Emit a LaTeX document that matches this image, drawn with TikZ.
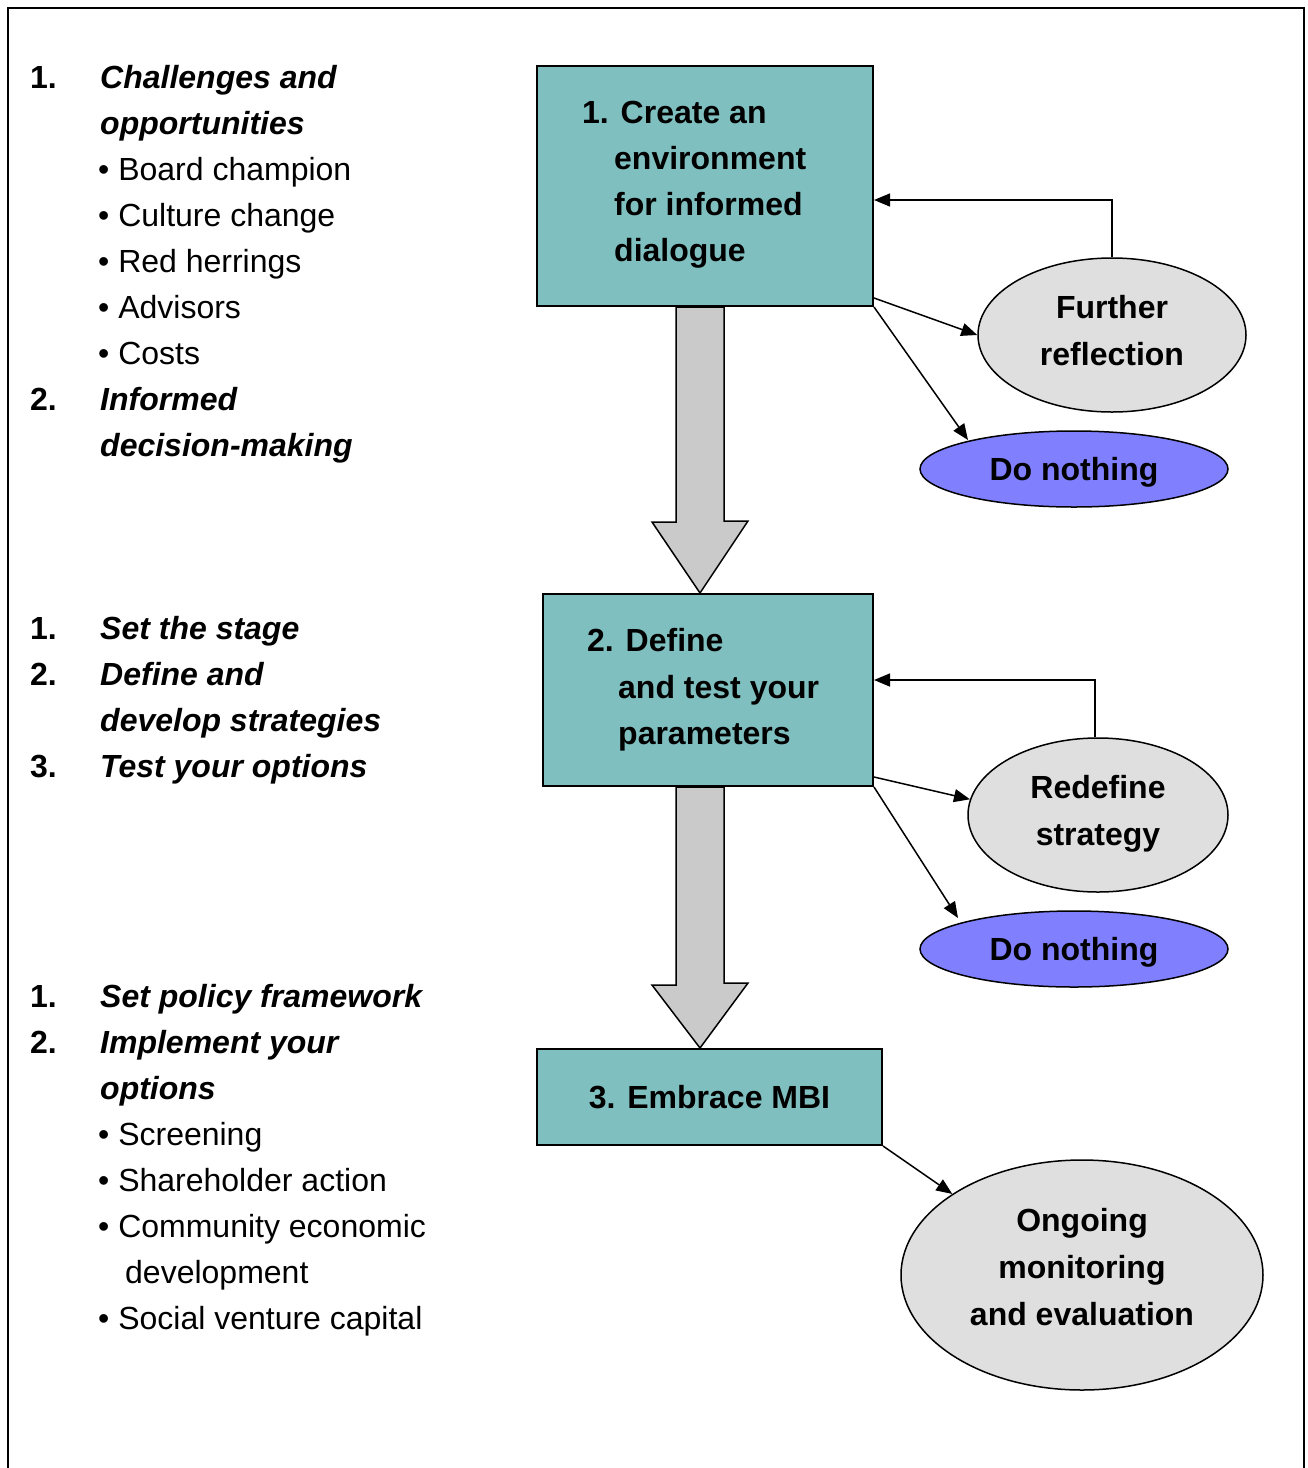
\documentclass[tikz,border=0pt]{standalone}
\usepackage{fontspec}
\setmainfont{Liberation Sans}
\usetikzlibrary{arrows.meta,calc,shapes.geometric}
\definecolor{tealbox}{HTML}{80BFBF}
\definecolor{ovalgray}{HTML}{DFDFDF}
\definecolor{ovalblue}{HTML}{8080FF}
\definecolor{blkgray}{HTML}{CACACA}
\begin{document}
\begin{tikzpicture}[x=1pt,y=-1pt,
  lt/.style={anchor=base west, inner sep=0pt, font=\fontsize{32}{38}\selectfont},
  lb/.style={lt, font=\fontsize{32}{38}\selectfont\bfseries},
  lbi/.style={lt, font=\fontsize{32}{38}\selectfont\bfseries\itshape},
  stagebox/.style={draw, line width=2pt, fill=tealbox, rectangle, inner sep=0pt},
  oval/.style={draw, ellipse, line width=1.5pt, fill=ovalgray, inner sep=0pt},
  nothing/.style={oval, fill=ovalblue},
  ovaltext/.style={inner sep=0pt, align=center, font=\fontsize{32}{47}\selectfont\bfseries},
  conn/.style={line width=1.5pt, -{Triangle[length=16pt,width=13pt]}},
  blk/.style={draw, line width=1.5pt, fill=blkgray, line join=miter}]
\useasboundingbox (0,0) rectangle (1308,1468);
\draw[line width=2pt] (8,1468) -- (8,8) -- (1304,8) -- (1304,1468);

% left column, group 1
\node[lb]  (g1n1) at (30,88) {1.};
\node[lbi] (g1a) at (100,88) {Challenges and};
\node[lbi] (g1b) at (100,134) {opportunities};
\node[lt]  (g1c) at (98,180) {• Board champion};
\node[lt]  (g1d) at (98,226) {• Culture change};
\node[lt]  (g1e) at (98,272) {• Red herrings};
\node[lt]  (g1f) at (98,318) {• Advisors};
\node[lt]  (g1g) at (98,364) {• Costs};
\node[lb]  (g1n2) at (30,410) {2.};
\node[lbi] (g1h) at (100,410) {Informed};
\node[lbi] (g1i) at (100,456) {decision-making};

% group 2
\node[lb]  (g2n1) at (30,639) {1.};
\node[lbi] (g2a) at (100,639) {Set the stage};
\node[lb]  (g2n2) at (30,685) {2.};
\node[lbi] (g2b) at (100,685) {Define and};
\node[lbi] (g2c) at (100,731) {develop strategies};
\node[lb]  (g2n3) at (30,777) {3.};
\node[lbi] (g2d) at (100,777) {Test your options};

% group 3
\node[lb]  (g3n1) at (30,1007) {1.};
\node[lbi] (g3a) at (100,1007) {Set policy framework};
\node[lb]  (g3n2) at (30,1053) {2.};
\node[lbi] (g3b) at (100,1053) {Implement your};
\node[lbi] (g3c) at (100,1099) {options};
\node[lt]  (g3d) at (98,1145) {• Screening};
\node[lt]  (g3e) at (98,1191) {• Shareholder action};
\node[lt]  (g3f) at (98,1237) {• Community economic};
\node[lt]  (g3g) at (125,1283) {development};
\node[lt]  (g3h) at (98,1329) {• Social venture capital};

% stage boxes
\node[stagebox, minimum width=336pt, minimum height=240pt] (b1) at (705,186) {};
\node[stagebox, minimum width=330pt, minimum height=192pt] (b2) at (708,690) {};
\node[stagebox, minimum width=345pt, minimum height=96pt, font=\fontsize{32}{38}\selectfont\bfseries] (b3) at (709.5,1097) {3. Embrace MBI};

\node[lb] (b1t1) at (582,123) {1. Create an};
\node[lb] (b1t2) at (614,169) {environment};
\node[lb] (b1t3) at (614,215) {for informed};
\node[lb] (b1t4) at (614,261) {dialogue};

\node[lb] (b2t1) at (587,651) {2. Define};
\node[lb] (b2t2) at (618,698) {and test your};
\node[lb] (b2t3) at (618,744) {parameters};

% block arrows
\draw[blk] ($(b1.south)+(-29,0)$) -- ++(0,215) -- ++(-24,0) -- ($(b2.north)+(-8,0)$) -- ++(48,-72) -- ++(-24,0) -- ($(b1.south)+(19,0)$) -- cycle;
\draw[blk] ($(b2.south)+(-32,0)$) -- ++(0,198) -- ++(-24,0) -- ($(b3.north)+(-9.5,0)$) -- ++(48,-65) -- ++(-24,0) -- ($(b2.south)+(16,0)$) -- cycle;

% ovals
\node[oval, minimum width=268pt, minimum height=154pt] (fr) at (1112,335) {};
\node[ovaltext] (frt) at ([yshift=4.5pt]fr.center) {Further\\reflection};
\node[nothing, minimum width=308pt, minimum height=76pt] (dn1) at (1074,469) {};
\node[ovaltext] (dn1t) at ([yshift=-3pt]dn1.center) {Do nothing};
\node[oval, minimum width=260pt, minimum height=154pt] (rd) at (1098,815) {};
\node[ovaltext] (rdt) at ([yshift=1pt]rd.center) {Redefine\\strategy};
\node[nothing, minimum width=308pt, minimum height=76pt] (dn2) at (1074,949) {};
\node[ovaltext] (dn2t) at ([yshift=-3pt]dn2.center) {Do nothing};
\node[oval, minimum width=362pt, minimum height=230pt] (og) at (1082,1275) {};
\node[ovaltext] (ogt) at ([yshift=8pt]og.center) {Ongoing\\monitoring\\and evaluation};

% connectors
\draw[conn] (fr.north) |- ([yshift=-14pt]b1.east);
\draw[conn] ([yshift=9pt]b1.south east) -- (fr.west);
\draw[conn] (b1.south east) -- ($(dn1.center)+(-106,-29)$);
\draw[conn] ([xshift=-3pt]rd.north) |- ([yshift=10pt]b2.east);
\draw[conn] ([yshift=10pt]b2.south east) -- (rd.173);
\draw[conn] (b2.south east) -- ($(dn2.center)+(-116,-31)$);
\draw[conn] (b3.south east) -- (og.148);
\end{tikzpicture}
\end{document}
